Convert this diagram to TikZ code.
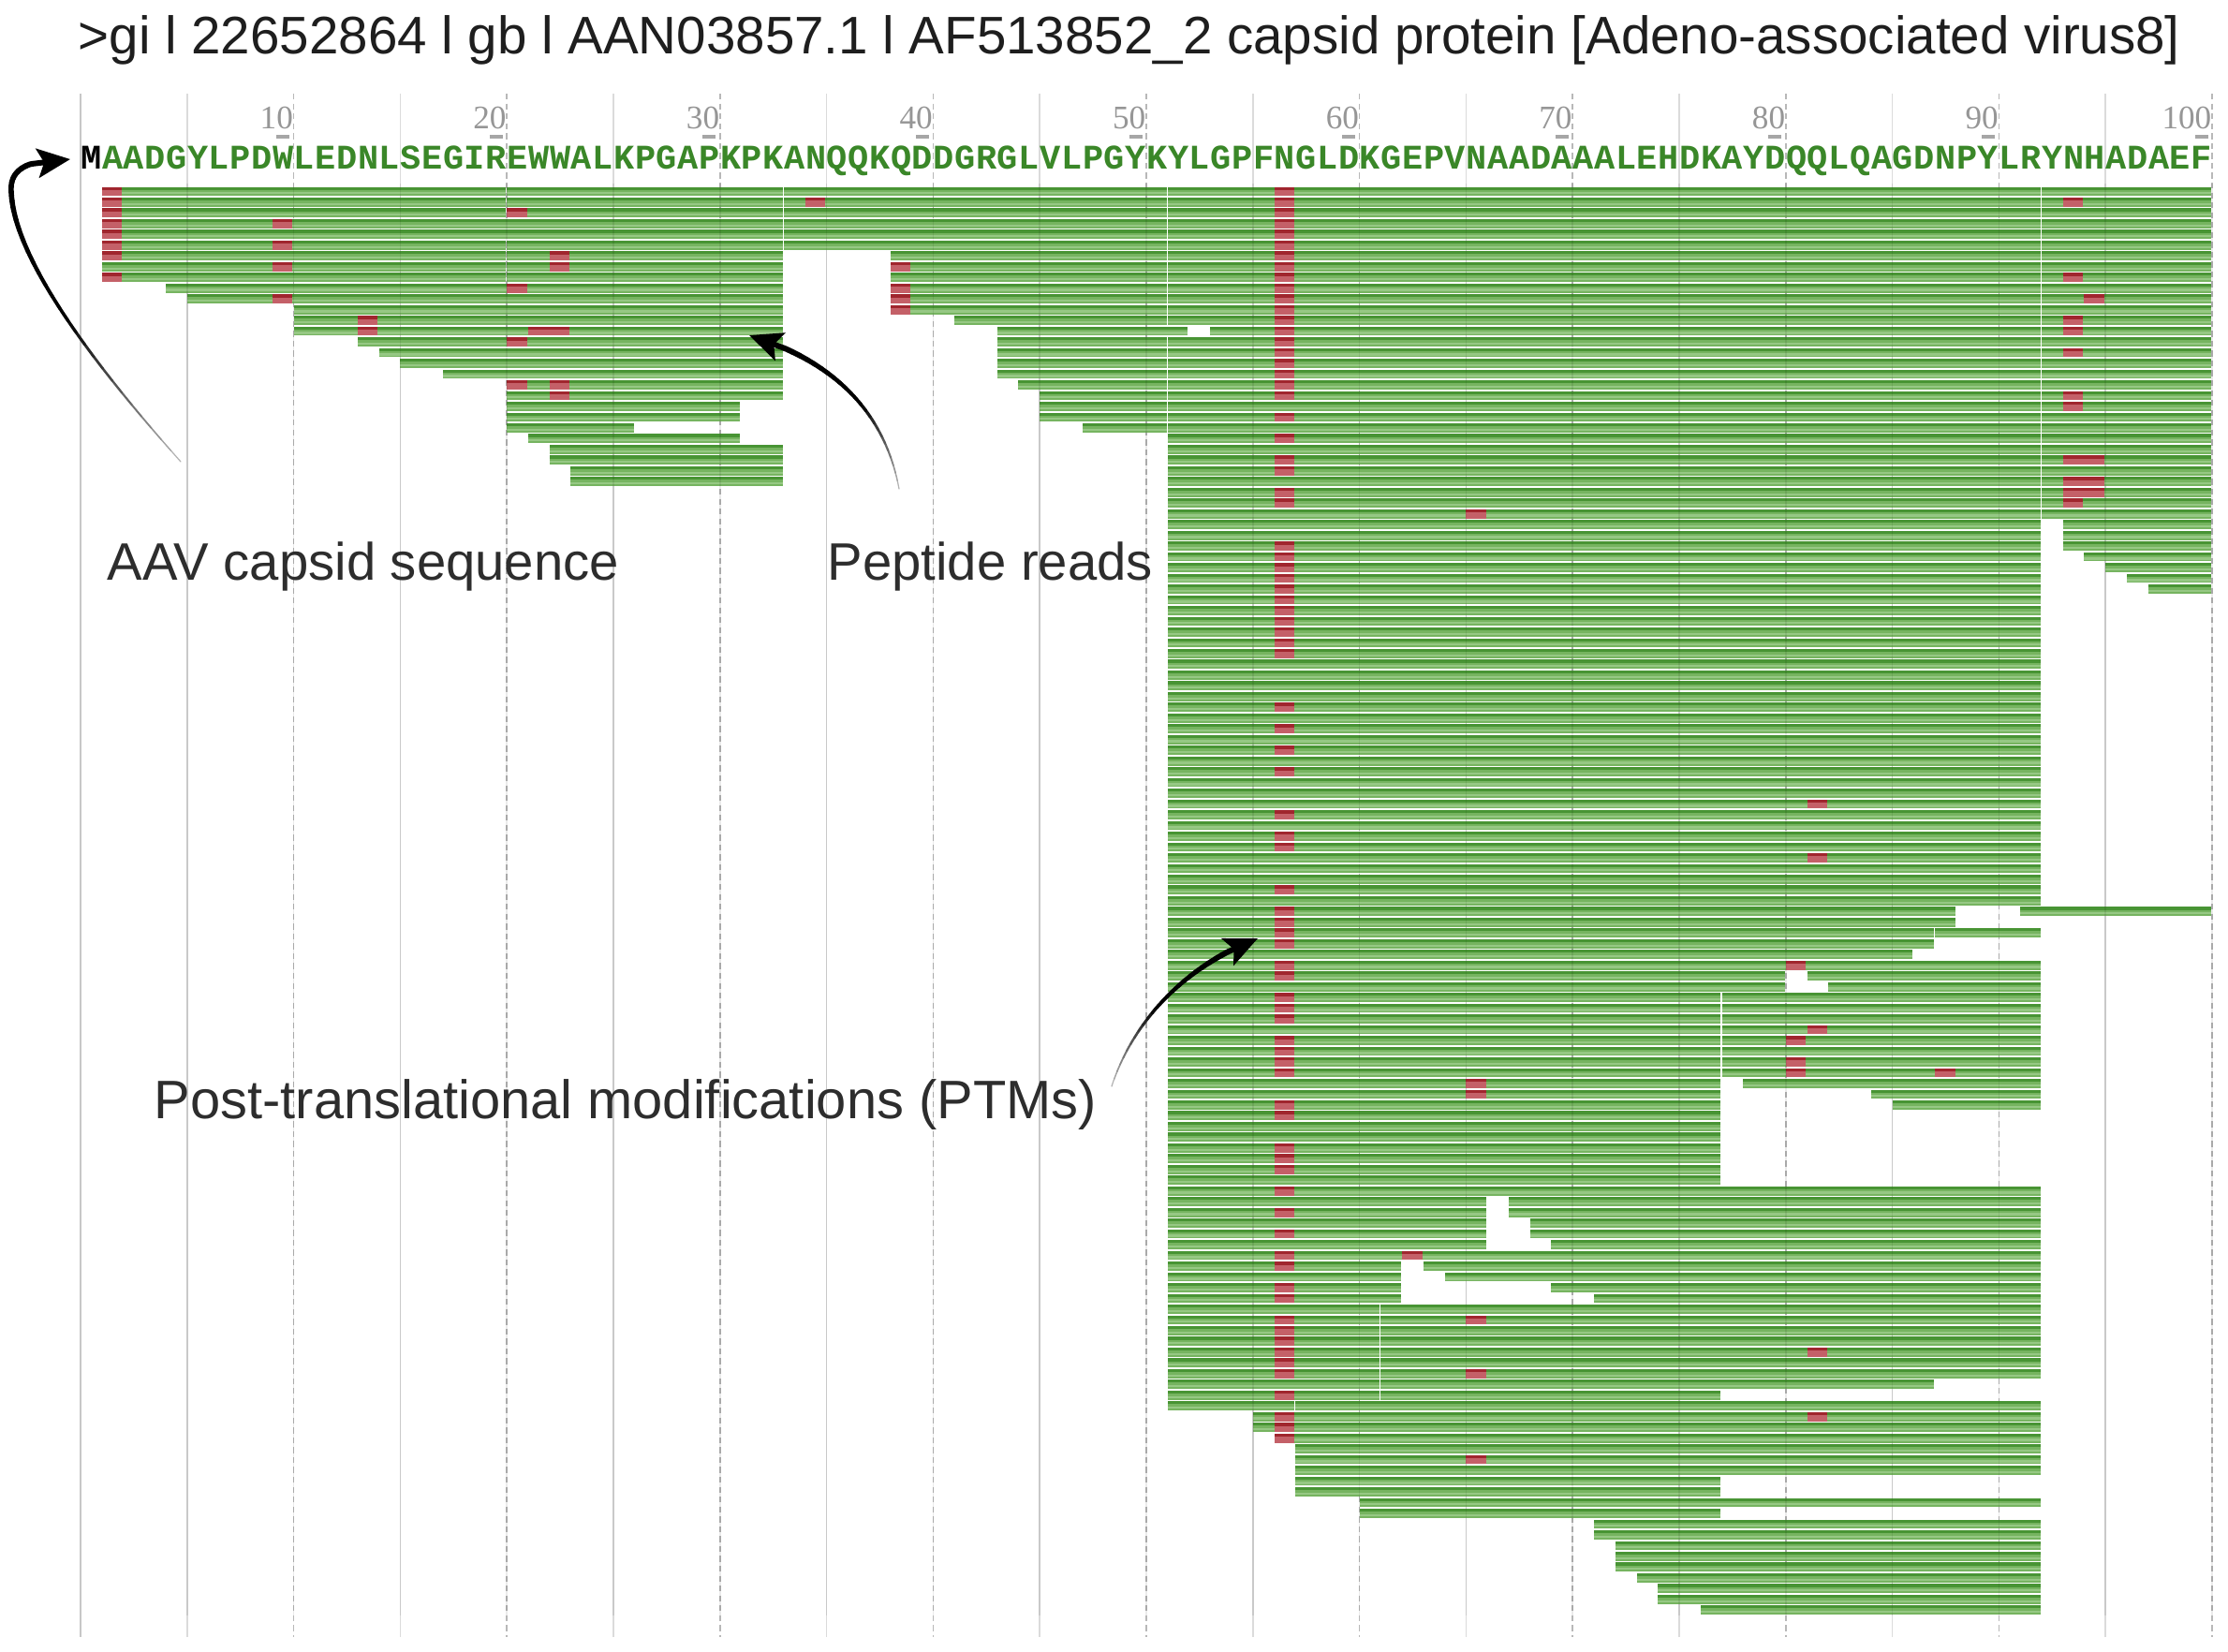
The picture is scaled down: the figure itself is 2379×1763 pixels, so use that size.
\documentclass[tikz,border=0pt]{standalone}
\usepackage{graphicx}
\usepackage{fontspec}
\setmainfont{Liberation Sans}
\newfontfamily\seqfont{Liberation Mono}
\newfontfamily\numfont{Liberation Serif}
\usetikzlibrary{arrows.meta}

\definecolor{readc}{RGB}{118,180,96}
\definecolor{readlow}{RGB}{150,200,132}
\definecolor{readtop}{RGB}{72,148,52}
\definecolor{ptmc}{RGB}{196,96,104}
\definecolor{ptmtop}{RGB}{160,38,46}
\definecolor{seqgreen}{RGB}{58,135,40}
\definecolor{tickgray}{RGB}{150,150,150}
\definecolor{labc}{RGB}{45,45,45}
\definecolor{titlec}{RGB}{30,30,30}

\newcommand{\pread}[3]{%
  \fill[readc] ({86+(#2-1)*22.76},{199.5+(#1)*11.476}) rectangle ({86+(#3)*22.76-1.2},{209.3+(#1)*11.476});%
  \fill[readlow] ({86+(#2-1)*22.76},{205.2+(#1)*11.476}) rectangle ({86+(#3)*22.76-1.2},{207.4+(#1)*11.476});%
  \fill[readtop] ({86+(#2-1)*22.76},{199.5+(#1)*11.476}) rectangle ({86+(#3)*22.76-1.2},{202.6+(#1)*11.476});%
}
\newcommand{\ptmark}[3]{%
  \fill[ptmc] ({86+(#2-1)*22.76},{199.5+(#1)*11.476}) rectangle ({86+(#3)*22.76-1.2},{209.3+(#1)*11.476});%
  \fill[ptmtop] ({86+(#2-1)*22.76},{199.5+(#1)*11.476}) rectangle ({86+(#3)*22.76-1.2},{202.9+(#1)*11.476});%
}
% tapered cubic curve: #1..#8 = P0,P1,P2,P3
\newcommand{\taper}[8]{%
  \foreach \k in {0,...,\tsteps}{%
    \pgfmathsetmacro\tpa{\tstart+(\tend-\tstart)*\k/(\tsteps+1)}%
    \pgfmathsetmacro\tpb{\tstart+(\tend-\tstart)*(\k+1)/(\tsteps+1)}%
    \pgfmathsetmacro\tlw{\twa+(\twb-\twa)*\k/\tsteps}%
    \pgfmathtruncatemacro\tcol{\tca+(\tcb-\tca)*min(1,2*\k/\tsteps)}%
    \draw[line width=\tlw pt, line cap=round, draw=black!\tcol] plot[domain=\tpa:\tpb, samples=4, variable=\bz]
      ({(1-\bz)^3*#1+3*(1-\bz)^2*\bz*#3+3*(1-\bz)*\bz^2*#5+\bz^3*#7},{(1-\bz)^3*#2+3*(1-\bz)^2*\bz*#4+3*(1-\bz)*\bz^2*#6+\bz^3*#8});
  }%
}
\newcommand{\tiphead}[8]{%
  \draw[line width=1.7pt, draw=black, -{Stealth[length=0.35cm, width=0.31cm, inset=0.07cm]}] plot[domain=\tend:1, samples=2, variable=\bz]
      ({(1-\bz)^3*#1+3*(1-\bz)^2*\bz*#3+3*(1-\bz)*\bz^2*#5+\bz^3*#7},{(1-\bz)^3*#2+3*(1-\bz)^2*\bz*#4+3*(1-\bz)*\bz^2*#6+\bz^3*#8});
}

\begin{document}
\begin{tikzpicture}[x=0.01cm,y=-0.01cm,
  seqlet/.style={font=\seqfont\bfseries\fontsize{10.5}{12}\selectfont, text=seqgreen, inner sep=0pt, anchor=base},
  ticklab/.style={font=\numfont\fontsize{10}{12}\selectfont, text=tickgray, inner sep=0pt, anchor=base east},
  lab/.style={font=\fontsize{16}{19}\selectfont, text=labc, inner sep=0pt, anchor=base west},
  gridsolid/.style={draw=black!14, line width=0.45pt},
  griddash/.style={draw=black!28, line width=0.45pt, dash pattern=on 1.8pt off 1.2pt},
  gridover/.style={draw=black, opacity=0.08, line width=0.45pt},
  tickmk/.style={draw=black!35, line width=1pt}]

\fill[white] (0,0) rectangle (2379,1763);
\useasboundingbox (0,0) rectangle (2379,1763);

% grid
\draw[gridsolid, draw=black!22] (86,100) -- (86,1748);
\foreach \k in {1,3,...,19} \draw[gridsolid] ({86+\k*113.8},100) -- ({86+\k*113.8},1748);
\foreach \k in {2,4,...,20} \draw[griddash] ({86+\k*113.8},100) -- ({86+\k*113.8},1748);

% title
\node[anchor=base west, inner sep=0pt, text=titlec] (title) at (83,57)
  {\resizebox{22.43cm}{!}{\fontsize{16}{19}\selectfont >gi l 22652864 l gb l AAN03857.1 l AF513852\_2 capsid protein [Adeno-associated virus8]}};

% ruler labels
\foreach \k/\lab in {1/10,2/20,3/30,4/40,5/50,6/60,7/70,8/80,9/90,10/100}{
  \node[ticklab] (t\lab) at ({86+\k*227.6},137) {\lab};
  \draw[tickmk] ({86+(\k*10-0.5)*22.76-7},146) -- ++(14,0);
}

% sequence
\node[seqlet, text=black] (s1) at ({86+0.5*22.76},180) {M};
\foreach \c [count=\i from 2] in {A,A,D,G,Y,L,P,D,W,L,E,D,N,L,S,E,G,I,R,E,W,W,A,L,K,P,G,A,P,K,P,K,A,N,Q,Q,K,Q,D,D,G,R,G,L,V,L,P,G,Y,K,Y,L,G,P,F,N,G,L,D,K,G,E,P,V,N,A,A,D,A,A,A,L,E,H,D,K,A,Y,D,Q,Q,L,Q,A,G,D,N,P,Y,L,R,Y,N,H,A,D,A,E,F}
  \node[seqlet] (s\i) at ({86+(\i-0.5)*22.76},180) {\c};

% ---- peptide reads ----
% left block
\foreach \r/\s/\e in {0/2/20,0/21/33,1/2/20,1/21/33,2/2/20,2/21/33,3/2/33,4/2/33,5/2/20,5/21/33,6/2/20,6/21/33,7/2/20,7/21/33,8/2/20,8/21/33,9/5/33,10/6/33,11/11/33,12/11/33,13/11/33,14/14/33,15/15/33,16/16/33,17/18/33,18/21/33,19/21/33,20/21/31,21/21/31,22/21/26,23/22/31,24/23/33,25/23/33,26/24/33,27/24/33}
  \pread{\r}{\s}{\e};
% middle-left block
\foreach \r in {0,...,5} \pread{\r}{34}{51};
\foreach \r in {6,...,11} \pread{\r}{39}{51};
\foreach \r/\s/\e in {12/42/51,13/44/52,14/44/51,15/44/51,16/44/51,17/44/51,18/45/51,19/46/51,20/46/51,21/46/51,22/48/51}
  \pread{\r}{\s}{\e};
% main block
\foreach \r in {0,...,12} \pread{\r}{52}{92};
\pread{13}{54}{92};
\foreach \r in {14,...,66} \pread{\r}{52}{92};
\foreach \r/\s/\e in {67/52/88,67/92/100,68/52/88,69/52/87,69/88/92,70/52/87,71/52/86,72/52/92,
  73/52/80,73/82/92,74/52/80,74/83/92,
  75/52/77,75/78/92,76/52/77,76/78/92,77/52/77,77/78/92,78/52/77,78/78/92,79/52/77,79/78/92,80/52/77,80/78/92,81/52/77,81/78/92,82/52/77,82/78/92,
  83/52/77,83/79/92,84/52/77,84/85/92,85/52/77,85/86/92,
  86/52/77,87/52/77,88/52/77,89/52/77,90/52/77,91/52/77,92/52/77,93/52/92,
  94/52/66,94/68/92,95/52/66,95/68/92,96/52/66,96/69/92,97/52/66,97/69/92,98/52/66,98/70/92,99/52/92,
  100/52/62,100/64/92,101/52/62,101/65/92,102/52/62,102/70/92,103/52/62,103/72/92,
  104/52/61,104/62/92,105/52/61,105/62/92,106/52/61,106/62/92,107/52/61,107/62/92,108/52/61,108/62/92,109/52/61,109/62/92,110/52/61,110/62/92,
  111/52/61,111/62/87,112/52/61,112/62/77,113/52/57,113/58/92,
  114/56/92,115/56/92,116/57/92,117/58/92,118/58/92,119/58/92,120/58/77,121/58/77,
  122/61/92,123/61/77,124/72/92,125/72/92,126/73/92,127/73/92,128/73/92,129/74/92,130/75/92,131/75/92,132/77/92}
  \pread{\r}{\s}{\e};
% right block
\foreach \r in {0,...,30} \pread{\r}{93}{100};
\foreach \r/\s/\e in {31/94/100,32/94/100,33/94/100,34/95/100,35/96/100,36/97/100,37/98/100}
  \pread{\r}{\s}{\e};

% ---- PTMs ----
\foreach \r/\s/\e in {0/2/2,1/2/2,2/2/2,2/21/21,3/2/2,3/10/10,4/2/2,5/2/2,5/10/10,6/2/2,6/23/23,7/10/10,7/23/23,8/2/2,9/21/21,10/10/10,12/14/14,13/14/14,13/22/23,14/21/21,18/21/21,18/23/23,19/23/23,
  1/35/35,7/39/39,9/39/39,10/39/39,11/39/39,
  30/66/66,57/82/82,62/82/82,72/81/81,78/82/82,79/81/81,81/81/81,82/81/81,82/88/88,83/66/66,84/66/66,99/63/63,105/66/66,108/82/82,110/66/66,114/82/82,118/66/66,
  1/94/94,8/94/94,10/95/95,12/94/94,13/94/94,15/94/94,19/94/94,20/94/94,25/94/95,27/94/95,28/94/95,29/94/94}
  \ptmark{\r}{\s}{\e};
\foreach \r in {0,1,2,3,4,5,6,7,8,9,10,11,12,13,14,15,16,17,18,19,21,23,25,26,28,29,33,34,35,36,37,38,39,40,41,42,43,48,50,52,54,58,60,61,65,67,68,69,70,72,73,75,76,77,79,80,81,82,85,86,89,90,91,93,95,97,99,100,102,103,105,106,107,108,109,110,112,114,115,116}
  \ptmark{\r}{57}{57};

% faint grid over the reads
\foreach \k in {1,...,20} \draw[gridover] ({86+\k*113.8},196) -- ({86+\k*113.8},1725);

% ---- labels ----
\node[lab] (lab1) at (114,619) {AAV capsid sequence};
\node[lab] (lab2) at (883,619) {Peptide reads};
\node[lab, font=\fontsize{16.45}{19}\selectfont] (lab3) at (164,1194) {Post-translational modifications (PTMs)};

% ---- arrows ----
% AAV capsid sequence -> M
\def\tsteps{23}\def\tstart{0}\def\tend{1}\def\twa{0.35}\def\twb{1.6}\def\tca{30}\def\tcb{100}
\taper{193}{493}{110}{400}{15}{280}{12}{205}
\def\tsteps{7}\def\tstart{0}\def\tend{0.6}\def\twa{1.6}\def\twb{1.7}\def\tca{100}\def\tcb{100}
\taper{12}{205}{10}{180}{30}{170}{75}{170}
\tiphead{12}{205}{10}{180}{30}{170}{75}{170}
% Peptide reads
\def\tsteps{23}\def\tstart{0}\def\tend{0.85}\def\twa{0.35}\def\twb{1.7}\def\tca{30}\def\tcb{100}
\taper{960}{522}{945}{440}{890}{385}{800}{358}
\tiphead{960}{522}{945}{440}{890}{385}{800}{358}
% PTMs
\taper{1187}{1160}{1212}{1085}{1270}{1030}{1343}{1002}
\tiphead{1187}{1160}{1212}{1085}{1270}{1030}{1343}{1002}

\end{tikzpicture}
\end{document}
